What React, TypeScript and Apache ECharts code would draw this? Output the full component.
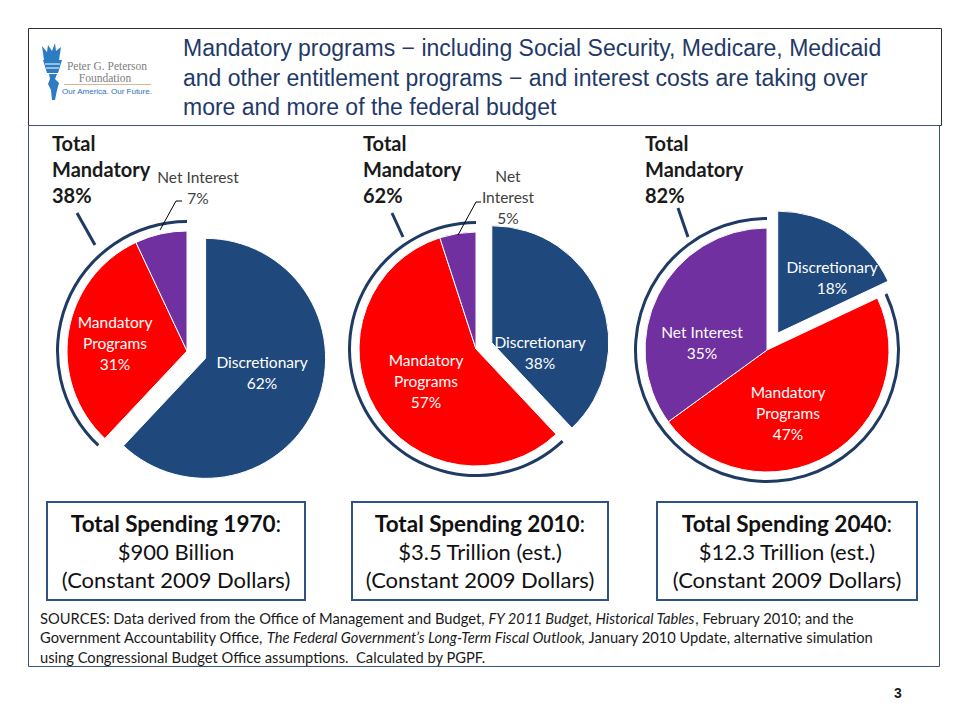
import React, { useEffect, useRef } from 'react';
import * as echarts from 'echarts';

// ---------- data ----------
const categories = ['Discretionary', 'Mandatory Programs', 'Net Interest'];
const years = ['1970', '2010', '2040'];
const share1970 = [62, 31, 7];
const share2010 = [38, 57, 5];
const share2040 = [18, 47, 35];
const totalMandatory = [38, 62, 82];
const totalSpending = ['$900 Billion', '$3.5 Trillion (est.)', '$12.3 Trillion (est.)'];
const titleLines = [
  'Mandatory programs \u2212 including Social Security, Medicare, Medicaid',
  'and other entitlement programs \u2212 and interest costs are taking over',
  'more and more of the federal budget',
];
const sourcesLines = [
  'SOURCES: Data derived from the Office of Management and Budget, {i|FY 2011 Budget, Historical Tables}, February 2010; and the',
  'Government Accountability Office, {i|The Federal Government\u2019s Long-Term Fiscal Outlook,} January 2010 Update, alternative simulation',
  'using Congressional Budget Office assumptions.  Calculated by PGPF.',
];
const pageNumber = '3';

// ---------- layout / style ----------
const shares = [share1970, share2010, share2040];
const COLORS = ['#1F497D', '#FF0000', '#7030A0'];
const NAVY = '#1F3B63';
const CAL = 'Lato, "Open Sans", sans-serif';
const ARIAL = '"Liberation Sans", Arial, sans-serif';

const pieLayout = [
  {
    center: [187, 351], r: 120, offset: 20,
    labels: [[262, 372], [115, 343], [198, 187]],
    breaks: ['Discretionary', 'Mandatory\nPrograms', 'Net Interest'],
    outside: [false, false, true],
    leader: [[160, 230], [176, 201], [182, 201]] as number[][] | null,
    tick: [77, 213, 95, 245], totalX: 52, box: [47, 502, 258, 98],
  },
  {
    center: [476, 349], r: 117, offset: 17,
    labels: [[540, 352], [426, 381], [508, 197]],
    breaks: ['Discretionary', 'Mandatory\nPrograms', 'Net\nInterest'],
    outside: [false, false, true],
    leader: [[458, 235], [476, 202], [481, 202]] as number[][] | null,
    tick: [392, 213, 403, 237], totalX: 363, box: [352, 502, 256, 98],
  },
  {
    center: [767, 350], r: 122, offset: 20,
    labels: [[832, 277], [788, 413], [702, 342]],
    breaks: ['Discretionary', 'Mandatory\nPrograms', 'Net Interest'],
    outside: [false, false, false],
    leader: null as number[][] | null,
    tick: [678, 208, 688, 237], totalX: 645, box: [657, 502, 260, 98],
  },
];

function buildOption(): any {
  const series: any[] = [];
  pieLayout.forEach((pl, pi) => {
    series.push({
      type: 'pie',
      name: years[pi],
      center: pl.center,
      radius: [0, pl.r],
      startAngle: 90,
      clockwise: true,
      selectedMode: 'single',
      selectedOffset: pl.offset,
      avoidLabelOverlap: false,
      silent: true,
      itemStyle: { borderColor: '#ffffff', borderWidth: 1 },
      select: { itemStyle: { borderColor: '#ffffff', borderWidth: 1 } },
      emphasis: { disabled: true },
      label: { show: false },
      labelLine: { show: false },
      data: categories.map((c, i) => ({
        name: c,
        value: shares[pi][i],
        selected: i === 0,
        itemStyle: { color: COLORS[i] },
      })),
    });
  });
  // Arc marking the mandatory (non-discretionary) share
  pieLayout.forEach((pl, pi) => {
    const s = shares[pi];
    series.push({
      type: 'pie',
      name: 'Total Mandatory ' + years[pi],
      center: pl.center,
      radius: [pl.r + 8, pl.r + 11],
      startAngle: 90,
      clockwise: true,
      silent: true,
      label: { show: false },
      labelLine: { show: false },
      emphasis: { disabled: true },
      data: [
        { name: 'Discretionary', value: s[0], itemStyle: { color: 'rgba(0,0,0,0)' } },
        { name: 'Total Mandatory', value: s[1] + s[2], itemStyle: { color: NAVY } },
      ],
    });
  });

  const graphic: any[] = [];
  // title box and content box
  graphic.push({ type: 'rect', shape: { x: 28.5, y: 28.5, width: 913, height: 97 }, style: { fill: 'none', stroke: '#303030', lineWidth: 1 } });
  graphic.push({ type: 'rect', shape: { x: 28.5, y: 125.5, width: 911, height: 541 }, style: { fill: 'none', stroke: '#3A5478', lineWidth: 1 } });
  titleLines.forEach((t, i) => {
    graphic.push({ type: 'text', x: 183, y: 48 + i * 29.5, style: { text: t, fill: '#1F3A68', font: `23px ${ARIAL}`, verticalAlign: 'middle', align: 'left' } });
  });
  // logo
  const blue = '#2C7CC4';
  graphic.push({ type: 'polygon', shape: { points: [[42, 46], [47, 52], [48, 45], [52, 51], [55, 43], [56, 51], [61, 47], [59, 60], [44, 60]] }, style: { fill: blue } });
  graphic.push({ type: 'polygon', shape: { points: [[43, 60], [62, 60], [58, 73], [47, 73]] }, style: { fill: blue } });
  graphic.push({ type: 'line', shape: { x1: 45, y1: 64, x2: 60, y2: 64 }, style: { stroke: '#ffffff', lineWidth: 1 } });
  graphic.push({ type: 'line', shape: { x1: 46, y1: 68, x2: 59, y2: 68 }, style: { stroke: '#ffffff', lineWidth: 1 } });
  graphic.push({ type: 'polygon', shape: { points: [[49, 74], [57, 74], [55, 79], [59, 83], [57, 90], [55, 100], [52, 100], [51, 90], [48, 84], [50, 79]] }, style: { fill: blue } });
  graphic.push({ type: 'text', x: 107, y: 65.5, style: { text: 'Peter G. Peterson', fill: '#808080', font: '11.5px "Liberation Serif", "DejaVu Serif", serif', align: 'center', verticalAlign: 'middle' } });
  graphic.push({ type: 'text', x: 105, y: 77.5, style: { text: 'Foundation', fill: '#808080', font: '11.5px "Liberation Serif", "DejaVu Serif", serif', align: 'center', verticalAlign: 'middle' } });
  graphic.push({ type: 'line', shape: { x1: 64, y1: 84.5, x2: 151, y2: 84.5 }, style: { stroke: '#D8B894', lineWidth: 1 } });
  graphic.push({ type: 'text', x: 107, y: 91, style: { text: 'Our America. Our Future.', fill: '#1F6FBF', font: `8px ${ARIAL}`, align: 'center', verticalAlign: 'middle' } });

  pieLayout.forEach((pl, pi) => {
    // slice labels, text built from the data
    categories.forEach((c, i) => {
      const [lx, ly] = pl.labels[i];
      graphic.push({
        type: 'text', x: lx, y: ly, z: 10,
        style: {
          text: `${pl.breaks[i]}\n${shares[pi][i]}%`,
          fill: pl.outside[i] ? '#404040' : '#ffffff',
          font: `15.5px ${CAL}`, lineHeight: 21, align: 'center', verticalAlign: 'middle',
        },
      });
    });
    if (pl.leader) {
      graphic.push({ type: 'polyline', z: 10, shape: { points: pl.leader }, style: { stroke: '#000000', lineWidth: 1, fill: 'none' } });
    }
    graphic.push({
      type: 'text', x: pl.totalX, y: 130,
      style: { text: `Total\nMandatory\n${totalMandatory[pi]}%`, fill: '#1A1A1A', font: `bold 20px ${CAL}`, lineHeight: 26, align: 'left', verticalAlign: 'top' },
    });
    const [x1, y1, x2, y2] = pl.tick;
    graphic.push({ type: 'line', shape: { x1, y1, x2, y2 }, style: { stroke: NAVY, lineWidth: 3 } });
    const [bx, by, bw, bh] = pl.box;
    graphic.push({ type: 'rect', shape: { x: bx, y: by, width: bw, height: bh }, style: { fill: '#ffffff', stroke: '#2F5384', lineWidth: 2 } });
    const cx = bx + bw / 2;
    graphic.push({
      type: 'text', x: cx, y: by + 21,
      style: {
        text: `{b|Total Spending ${years[pi]}}{n|:}`,
        rich: { b: { fontWeight: 'bold', fontSize: 22.5, fontFamily: CAL, fill: '#111111' }, n: { fontSize: 22.5, fontFamily: CAL, fill: '#111111' } },
        align: 'center', verticalAlign: 'middle',
      },
    });
    graphic.push({ type: 'text', x: cx, y: by + 49, style: { text: totalSpending[pi], fill: '#111111', font: `22px ${CAL}`, align: 'center', verticalAlign: 'middle' } });
    graphic.push({ type: 'text', x: cx, y: by + 77, style: { text: '(Constant 2009 Dollars)', fill: '#111111', font: `22px ${CAL}`, align: 'center', verticalAlign: 'middle' } });
  });

  sourcesLines.forEach((t, i) => {
    graphic.push({
      type: 'text', x: 40, y: 617.5 + i * 19.5,
      style: {
        text: t,
        rich: { i: { fontStyle: 'italic', fontSize: 14.7, fontFamily: CAL, fill: '#1A1A1A' } },
        fill: '#1A1A1A', font: `14.7px ${CAL}`, align: 'left', verticalAlign: 'middle',
      },
    });
  });
  graphic.push({ type: 'text', x: 898, y: 693, style: { text: pageNumber, fill: '#1A1A1A', font: `bold 14px ${ARIAL}`, align: 'center', verticalAlign: 'middle' } });

  return {
    animation: false,
    backgroundColor: '#ffffff',
    series,
    graphic: { elements: graphic },
  };
}

export default function App() {
  const ref = useRef<HTMLDivElement>(null);
  useEffect(() => {
    if (!ref.current) return;
    const chart = echarts.init(ref.current, undefined, { renderer: 'svg' });
    chart.setOption(buildOption());
    return () => chart.dispose();
  }, []);
  return (
    <div
      ref={ref}
      style={{ position: 'fixed', left: 0, top: 0, width: 960, height: 720, background: '#ffffff' }}
    />
  );
}
